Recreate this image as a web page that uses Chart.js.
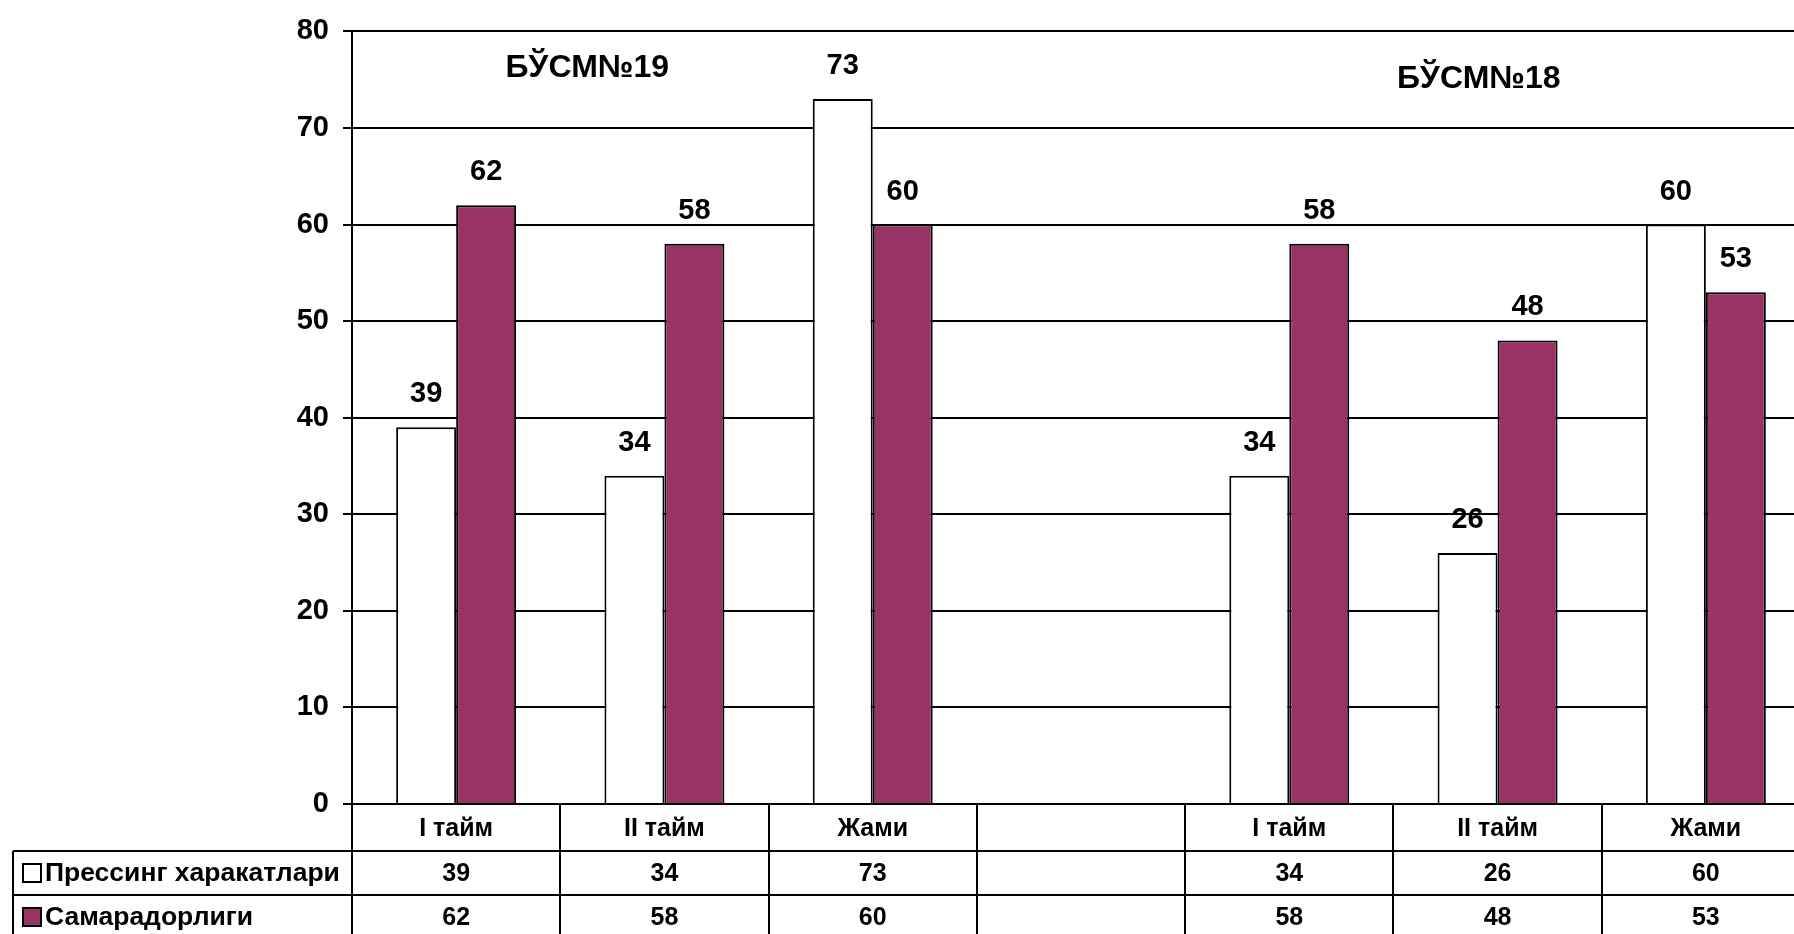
<!DOCTYPE html>
<html>
<head>
<meta charset="utf-8">
<script src="https://cdn.jsdelivr.net/npm/chart.js@4"></script>
<style>
  html, body { margin: 0; padding: 0; overflow: hidden; background: #fff; }
  #wrap { position: absolute; left: 0; top: 0; width: 1830px; height: 950px; }
</style>
</head>
<body>
<div id="wrap"><canvas id="chart"></canvas></div>
<script>
/* Прессинг chart with data table */

const categories = ['I тайм', 'II тайм', 'Жами', '', 'I тайм', 'II тайм', 'Жами']
const pressing = [39, 34, 73, null, 34, 26, 60]
const efficiency = [62, 58, 60, null, 58, 48, 53]
const yTicks = [0, 10, 20, 30, 40, 50, 60, 70, 80]
const groups = ['БЎСМ№19', 'БЎСМ№18']

const Text = {
  PRESSING: 'Прессинг харакатлари',
  EFFICIENCY: 'Самарадорлиги'
}

const FONT = '"Liberation Sans", Arial, sans-serif'
const PURPLE = '#993366'

const tablePlugin = {
  id: 'tablePlugin',
  afterDraw(chart) {
    const ctx = chart.ctx
    const x = chart.scales.x
    const y = chart.scales.y
    const area = chart.chartArea
    const catW = x.getPixelForValue(1) - x.getPixelForValue(0)
    const rowTop = [area.bottom, area.bottom + 47, area.bottom + 91]
    const rowH = [47, 44, 44]
    const tableLeft = 13
    const right = area.right

    ctx.save()

    // data labels above bars
    ctx.fillStyle = '#000'
    ctx.font = 'bold 29px ' + FONT
    ctx.textAlign = 'center'
    ctx.textBaseline = 'middle'
    chart.data.datasets.forEach((ds, di) => {
      chart.getDatasetMeta(di).data.forEach((el, i) => {
        if (ds.data[i] == null) return
        ctx.fillText(String(ds.data[i]), el.x, el.y - 33)
      })
    })

    // group titles
    ctx.font = 'bold 32px ' + FONT
    ctx.fillText(groups[0], x.getPixelForValue(0.63), y.getPixelForValue(76.2))
    ctx.fillText(groups[1], x.getPixelForValue(4.91), y.getPixelForValue(75.1))

    // table grid
    ctx.strokeStyle = '#000'
    ctx.lineWidth = 2
    ctx.beginPath()
    for (let i = 0; i <= categories.length; i++) {
      const px = Math.round(area.left + i * catW)
      ctx.moveTo(px, area.bottom)
      ctx.lineTo(px, rowTop[2] + rowH[2])
    }
    ctx.moveTo(tableLeft, rowTop[1])
    ctx.lineTo(tableLeft, rowTop[2] + rowH[2])
    for (let r = 1; r <= 3; r++) {
      const py = r < 3 ? rowTop[r] : rowTop[2] + rowH[2]
      ctx.moveTo(tableLeft, py)
      ctx.lineTo(right + 40, py)
    }
    ctx.stroke()

    // table values
    ctx.font = 'bold 25px ' + FONT
    const rows = [pressing, efficiency]
    rows.forEach((vals, r) => {
      const cy = rowTop[r + 1] + rowH[r + 1] / 2 + 1
      vals.forEach((v, i) => {
        if (v == null) return
        ctx.textAlign = 'center'
        ctx.fillText(String(v), x.getPixelForValue(i), cy)
      })
    })

    // legend keys in the table
    const names = [Text.PRESSING, Text.EFFICIENCY]
    const fills = ['#ffffff', PURPLE]
    ctx.font = 'bold 26.5px ' + FONT
    names.forEach((name, r) => {
      const cy = rowTop[r + 1] + rowH[r + 1] / 2
      ctx.fillStyle = fills[r]
      ctx.fillRect(23, cy - 9, 18, 18)
      ctx.strokeStyle = '#000'
      ctx.lineWidth = 2
      ctx.strokeRect(23, cy - 9, 18, 18)
      ctx.fillStyle = '#000'
      ctx.textAlign = 'left'
      ctx.fillText(name, 45, cy + 1)
    })

    ctx.restore()
  }
}

new Chart(document.getElementById('chart'), {
  type: 'bar',
  data: {
    labels: categories,
    datasets: [
      {
        label: Text.PRESSING,
        data: pressing,
        backgroundColor: '#ffffff',
        borderColor: '#000000',
        borderWidth: 2
      },
      {
        label: Text.EFFICIENCY,
        data: efficiency,
        backgroundColor: PURPLE,
        borderColor: '#000000',
        borderWidth: 2
      }
    ]
  },
  options: {
    responsive: true,
    maintainAspectRatio: false,
    animation: false,
    layout: { padding: { top: 25, right: 20, bottom: 0, left: 0 } },
    datasets: {
      bar: { categoryPercentage: 0.576, barPercentage: 1 }
    },
    plugins: {
      legend: { display: false },
      tooltip: { enabled: false },
      title: { display: false }
    },
    scales: {
      x: {
        grid: { display: false },
        border: { display: true, color: '#000', width: 2 },
        ticks: {
          autoSkip: false,
          maxRotation: 0,
          minRotation: 0,
          color: '#000',
          padding: 2,
          font: { family: FONT, size: 25, weight: 'bold' }
        },
        afterFit(scale) { scale.height = 146 }
      },
      y: {
        min: 0,
        max: 80,
        afterBuildTicks(scale) { scale.ticks = yTicks.map(v => ({ value: v })) },
        grid: { color: '#000', lineWidth: 2, tickLength: 9 },
        border: { display: true, color: '#000', width: 2 },
        ticks: {
          color: '#000',
          padding: 14,
          font: { family: FONT, size: 29, weight: 'bold' }
        },
        afterFit(scale) { scale.width = 352 }
      }
    }
  },
  plugins: [tablePlugin]
})
</script>
</body>
</html>
